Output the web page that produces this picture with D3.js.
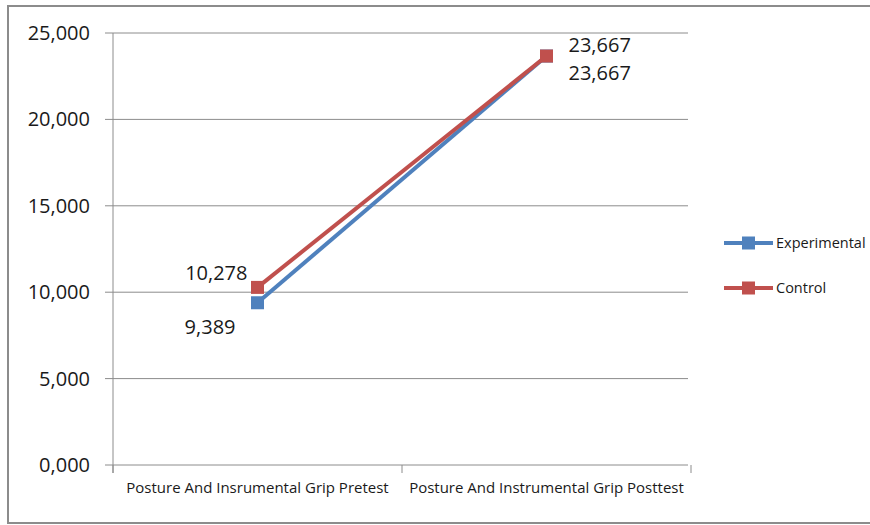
<!DOCTYPE html>
<html lang="en">
<head>
<meta charset="utf-8">
<title>Posture and instrumental grip</title>
<script src="https://cdn.jsdelivr.net/npm/d3@7"></script>
<style>
  body { margin: 0; background: #fff; }
  text { font-family: "Open Sans", "Noto Sans", sans-serif; fill: #1a1a1a; }
</style>
</head>
<body>
<div id="chart"></div>
<script>
// data
var categories = ['Posture And Insrumental Grip Pretest', 'Posture And Instrumental Grip Posttest'];
var experimental = [9.389, 23.667];
var control = [10.278, 23.667];
var seriesNames = ['Experimental', 'Control'];
var yTicks = [0, 5, 10, 15, 20, 25];

var w = 870, h = 525;
var colors = { Experimental: '#4f81bd', Control: '#c0504d' };

var svg = d3.select('#chart').append('svg')
    .attr('width', w)
    .attr('height', h);

// outer chart border
svg.append('rect')
    .attr('x', 8).attr('y', 6)
    .attr('width', 880).attr('height', 517)
    .attr('fill', 'none')
    .attr('stroke', '#8c8c8c')
    .attr('stroke-width', 2);

// plot area
var pLeft = 113, pRight = 691, pTop = 33, pBottom = 465;

var x = d3.scaleBand().domain(categories).range([pLeft, pRight]);
var y = d3.scaleLinear().domain([0, 25]).range([pBottom, pTop]);

// the source uses comma decimal with 3 digits, e.g. 25,000
var fmt = function (v) { return d3.format('.3f')(v).replace('.', ','); };

// gridlines + y ticks
var gy = svg.append('g');
gy.selectAll('line.grid')
    .data(yTicks)
    .enter().append('line')
    .attr('x1', pLeft - 8).attr('x2', pRight - 3)
    .attr('y1', function (d) { return y(d); })
    .attr('y2', function (d) { return y(d); })
    .attr('stroke', '#8c8c8c')
    .attr('stroke-width', 1);
gy.selectAll('text')
    .data(yTicks)
    .enter().append('text')
    .attr('x', 90)
    .attr('y', function (d) { return y(d); })
    .attr('dy', '0.35em')
    .attr('text-anchor', 'end')
    .style('font-size', '20px')
    .text(fmt);

// y axis line
svg.append('line')
    .attr('x1', pLeft).attr('x2', pLeft)
    .attr('y1', pTop).attr('y2', pBottom + 8)
    .attr('stroke', '#8c8c8c');

// x axis ticks and labels
var xEdges = [pLeft].concat(categories.map(function (c) { return x(c) + x.bandwidth(); }));
svg.selectAll('line.xtick')
    .data(xEdges)
    .enter().append('line')
    .attr('x1', function (d) { return d; })
    .attr('x2', function (d) { return d; })
    .attr('y1', pBottom).attr('y2', pBottom + 8)
    .attr('stroke', '#8c8c8c');
svg.selectAll('text.xlab')
    .data(categories)
    .enter().append('text')
    .attr('x', function (d) { return x(d) + x.bandwidth() / 2; })
    .attr('y', 493)
    .attr('text-anchor', 'middle')
    .style('font-size', '15px')
    .text(function (d) { return d; });

// series
var series = [
    { name: 'Experimental', values: experimental },
    { name: 'Control', values: control }
];
var line = d3.line()
    .x(function (d, i) { return x(categories[i]) + x.bandwidth() / 2; })
    .y(function (d) { return y(d); });

series.forEach(function (s) {
    svg.append('path')
        .datum(s.values)
        .attr('d', line)
        .attr('fill', 'none')
        .attr('stroke', colors[s.name])
        .attr('stroke-width', 4);
    svg.selectAll('rect.m-' + s.name)
        .data(s.values)
        .enter().append('rect')
        .attr('x', function (d, i) { return x(categories[i]) + x.bandwidth() / 2 - 6.5; })
        .attr('y', function (d) { return y(d) - 6.5; })
        .attr('width', 13).attr('height', 13)
        .attr('fill', colors[s.name]);
});

// data labels
var labels = [
    { v: experimental[0], i: 0, dx: -22, dy: 24, anchor: 'end' },
    { v: control[0], i: 0, dx: -10, dy: -14, anchor: 'end' },
    { v: control[1], i: 1, dx: 22, dy: -11, anchor: 'start' },
    { v: experimental[1], i: 1, dx: 22, dy: 17, anchor: 'start' }
];
svg.selectAll('text.dl')
    .data(labels)
    .enter().append('text')
    .attr('x', function (d) { return x(categories[d.i]) + x.bandwidth() / 2 + d.dx; })
    .attr('y', function (d) { return y(d.v) + d.dy; })
    .attr('dy', '0.35em')
    .attr('text-anchor', function (d) { return d.anchor; })
    .style('font-size', '20px')
    .text(function (d) { return fmt(d.v); });

// legend
var leg = svg.append('g');
seriesNames.forEach(function (name, i) {
    var ly = 243 + i * 45;
    leg.append('line')
        .attr('x1', 724).attr('x2', 773)
        .attr('y1', ly).attr('y2', ly)
        .attr('stroke', colors[name])
        .attr('stroke-width', 4);
    leg.append('rect')
        .attr('x', 742).attr('y', ly - 6.5)
        .attr('width', 13).attr('height', 13)
        .attr('fill', colors[name]);
    leg.append('text')
        .attr('x', 776).attr('y', ly)
        .attr('dy', '0.35em')
        .style('font-size', '14.5px')
        .text(name);
});
</script>
</body>
</html>
